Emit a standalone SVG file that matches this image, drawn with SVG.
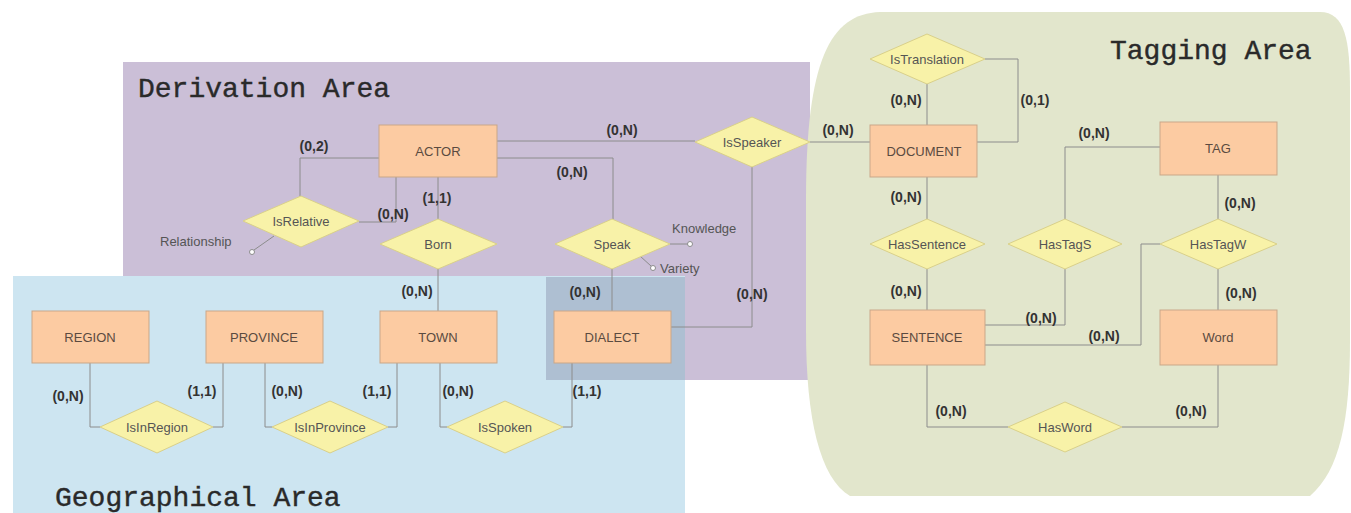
<svg xmlns="http://www.w3.org/2000/svg" width="1351" height="513" viewBox="0 0 1351 513">
<style>
.ent{fill:#fccba2;stroke:#c9a789;stroke-width:1}
.rel{fill:#f8f2a8;stroke:#d9d08a;stroke-width:1}
.et{font-family:"Liberation Sans",Arial,sans-serif;font-size:13px;fill:#5a4a40;text-anchor:middle;dominant-baseline:central}
.rt{font-family:"Liberation Sans",Arial,sans-serif;font-size:13px;fill:#555;text-anchor:middle;dominant-baseline:central}
.card{font-family:"Liberation Sans",Arial,sans-serif;font-size:14px;font-weight:bold;fill:#333;text-anchor:middle;dominant-baseline:central}
.attr{font-family:"Liberation Sans",Arial,sans-serif;font-size:13px;fill:#555;dominant-baseline:central}
.area{font-family:"Liberation Mono","Courier New",monospace;font-size:28px;fill:#2a2a2a;stroke:#2a2a2a;stroke-width:0.4}
.ln{fill:none;stroke:#8c8c8c;stroke-width:1}
.dot{fill:#fff;stroke:#8c8c8c;stroke-width:1}
</style>
<rect width="1351" height="513" fill="#ffffff"/>
<g id="areas">
<rect x="123" y="62" width="687" height="318" fill="#cbbfd7"/>
<rect x="13" y="276" width="672" height="237" fill="#cde5f1"/>
<rect x="546" y="277" width="139" height="103" fill="#aebfd2"/>
<path d="M 880 12 C 830 14 806 60 806 200 L 806 330 C 806 420 820 478 850 496 L 1310 496 C 1340 470 1350 420 1350 340 L 1350 90 C 1350 40 1345 12 1320 12 Z" fill="#e2e6cc"/>
<text class="area" x="138" y="97">Derivation Area</text>
<text class="area" x="1110" y="59">Tagging Area</text>
<text class="area" x="55" y="506">Geographical Area</text>
</g>
<g id="connectors">
<polyline class="ln" points="379,158 300,158 300,196"/>
<polyline class="ln" points="396,177 396,222 359,222"/>
<line class="ln" x1="438" y1="177" x2="438" y2="219"/>
<line class="ln" x1="497" y1="141" x2="695" y2="141"/>
<polyline class="ln" points="497,158 613,158 613,219"/>
<line class="ln" x1="810" y1="142" x2="870" y2="142"/>
<polyline class="ln" points="752,167 752,327 671,327"/>
<line class="ln" x1="612" y1="269" x2="612" y2="311"/>
<line class="ln" x1="670" y1="244" x2="688" y2="244"/>
<line class="ln" x1="640" y1="256" x2="651" y2="266"/>
<line class="ln" x1="274" y1="236" x2="254" y2="250"/>
<line class="ln" x1="438" y1="269" x2="438" y2="311"/>
<polyline class="ln" points="90,363 90,427 100,427"/>
<polyline class="ln" points="223,363 223,427 213,427"/>
<polyline class="ln" points="265,363 265,427 272,427"/>
<polyline class="ln" points="397,363 397,427 388,427"/>
<polyline class="ln" points="440,363 440,427 447,427"/>
<polyline class="ln" points="572,363 572,427 563,427"/>
<line class="ln" x1="927" y1="84" x2="927" y2="125"/>
<polyline class="ln" points="985,59 1018,59 1018,142 977,142"/>
<line class="ln" x1="927" y1="177" x2="927" y2="219"/>
<line class="ln" x1="927" y1="269" x2="927" y2="310"/>
<polyline class="ln" points="1160,147 1065,147 1065,219"/>
<line class="ln" x1="1218" y1="175" x2="1218" y2="219"/>
<polyline class="ln" points="1065,269 1065,325 985,325"/>
<polyline class="ln" points="1160,244 1141,244 1141,345 985,345"/>
<line class="ln" x1="1218" y1="269" x2="1218" y2="310"/>
<polyline class="ln" points="927,365 927,427 1008,427"/>
<polyline class="ln" points="1218,365 1218,427 1122,427"/>
<circle class="dot" cx="690" cy="244" r="2.5"/>
<circle class="dot" cx="653" cy="268" r="2.5"/>
<circle class="dot" cx="252" cy="252" r="2.5"/>
</g>
<g id="labels">
<text class="card" x="314" y="146">(0,2)</text>
<text class="card" x="393" y="214">(0,N)</text>
<text class="card" x="437" y="198">(1,1)</text>
<text class="card" x="622" y="130">(0,N)</text>
<text class="card" x="572" y="172">(0,N)</text>
<text class="card" x="838" y="130">(0,N)</text>
<text class="card" x="752" y="294">(0,N)</text>
<text class="card" x="585" y="292">(0,N)</text>
<text class="card" x="417" y="291">(0,N)</text>
<text class="card" x="68" y="396">(0,N)</text>
<text class="card" x="202" y="391">(1,1)</text>
<text class="card" x="287" y="391">(0,N)</text>
<text class="card" x="377" y="391">(1,1)</text>
<text class="card" x="458" y="391">(0,N)</text>
<text class="card" x="587" y="391">(1,1)</text>
<text class="card" x="906" y="100">(0,N)</text>
<text class="card" x="1035" y="100">(0,1)</text>
<text class="card" x="906" y="197">(0,N)</text>
<text class="card" x="906" y="291">(0,N)</text>
<text class="card" x="1094" y="133">(0,N)</text>
<text class="card" x="1240" y="203">(0,N)</text>
<text class="card" x="1041" y="318">(0,N)</text>
<text class="card" x="1104" y="336">(0,N)</text>
<text class="card" x="1241" y="293">(0,N)</text>
<text class="card" x="951" y="411">(0,N)</text>
<text class="card" x="1191" y="411">(0,N)</text>
<text class="attr" x="160" y="241">Relationship</text>
<text class="attr" x="672" y="228">Knowledge</text>
<text class="attr" x="660" y="268">Variety</text>
</g>
<g id="ACTOR"><rect class="ent" x="379" y="125" width="118" height="52"/><text class="et" x="438" y="151">ACTOR</text></g>
<g id="DOCUMENT"><rect class="ent" x="870" y="125" width="107" height="52"/><text class="et" x="924" y="151">DOCUMENT</text></g>
<g id="TAG"><rect class="ent" x="1160" y="122" width="117" height="53"/><text class="et" x="1218" y="148">TAG</text></g>
<g id="SENTENCE"><rect class="ent" x="870" y="310" width="115" height="55"/><text class="et" x="927" y="337">SENTENCE</text></g>
<g id="Word"><rect class="ent" x="1160" y="310" width="117" height="55"/><text class="et" x="1218" y="337">Word</text></g>
<g id="REGION"><rect class="ent" x="32" y="311" width="117" height="52"/><text class="et" x="90" y="337">REGION</text></g>
<g id="PROVINCE"><rect class="ent" x="206" y="311" width="117" height="52"/><text class="et" x="264" y="337">PROVINCE</text></g>
<g id="TOWN"><rect class="ent" x="380" y="311" width="117" height="52"/><text class="et" x="438" y="337">TOWN</text></g>
<g id="DIALECT"><rect class="ent" x="554" y="311" width="117" height="52"/><text class="et" x="612" y="337">DIALECT</text></g>
<g id="IsRelative"><polygon class="rel" points="243,221 301,196 359,221 301,247"/><text class="rt" x="301" y="221">IsRelative</text></g>
<g id="Born"><polygon class="rel" points="380,244 438,219 497,244 438,269"/><text class="rt" x="438" y="244">Born</text></g>
<g id="Speak"><polygon class="rel" points="555,244 612,219 670,244 612,269"/><text class="rt" x="612" y="244">Speak</text></g>
<g id="IsSpeaker"><polygon class="rel" points="695,142 752,117 810,142 752,167"/><text class="rt" x="752" y="142" font-size="11">IsSpeaker</text></g>
<g id="IsTranslation"><polygon class="rel" points="870,59 927,34 985,59 927,84"/><text class="rt" x="927" y="59" font-size="12">IsTranslation</text></g>
<g id="HasSentence"><polygon class="rel" points="870,244 927,219 985,244 927,269"/><text class="rt" x="927" y="244">HasSentence</text></g>
<g id="HasTagS"><polygon class="rel" points="1008,244 1065,219 1122,244 1065,269"/><text class="rt" x="1065" y="244">HasTagS</text></g>
<g id="HasTagW"><polygon class="rel" points="1160,244 1218,219 1277,244 1218,269"/><text class="rt" x="1218" y="244">HasTagW</text></g>
<g id="HasWord"><polygon class="rel" points="1008,427 1065,402 1122,427 1065,452"/><text class="rt" x="1065" y="427">HasWord</text></g>
<g id="IsInRegion"><polygon class="rel" points="100,427 157,401 213,427 157,453"/><text class="rt" x="157" y="427">IsInRegion</text></g>
<g id="IsInProvince"><polygon class="rel" points="272,427 330,401 388,427 330,453"/><text class="rt" x="330" y="427">IsInProvince</text></g>
<g id="IsSpoken"><polygon class="rel" points="447,427 505,401 563,427 505,453"/><text class="rt" x="505" y="427">IsSpoken</text></g>
</svg>
